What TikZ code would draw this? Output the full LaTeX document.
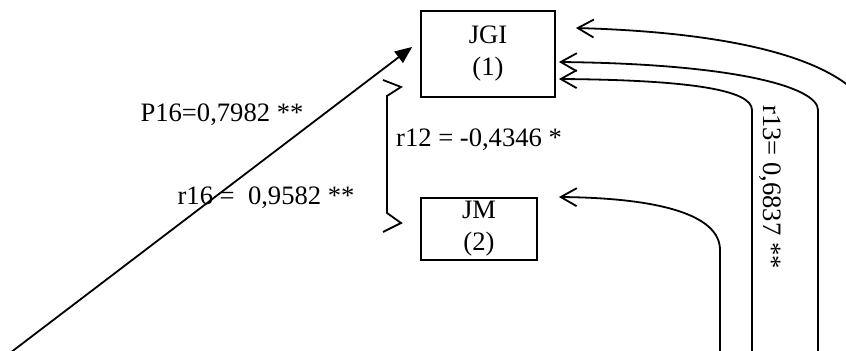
\documentclass[tikz,border=0pt]{standalone}
\usepackage{fontspec}
\setmainfont{Liberation Serif}
\usetikzlibrary{arrows.meta}

\tikzset{
  var/.style={draw, align=center, inner sep=0pt},
  rel/.style={-{Straight Barb[length=8pt,width=9pt]}},
}

\begin{document}
\begin{tikzpicture}[x=0.5pt, y=-0.5pt, line width=0.9pt, font=\fontsize{13.3}{16}\selectfont]
\useasboundingbox (0,0) rectangle (846,351);
\clip (0,0) rectangle (846,351);
\node [var, minimum width=67pt, minimum height=43pt] (jgi) at (488,54) {JGI\\(1)};
\node [var, minimum width=58pt, minimum height=31pt] (jm) at (479,229) {JM\\(2)};
\coordinate (x6) at (10,353);
\coordinate (x2) at (720,351);
\coordinate (x3a) at (752,351);
\coordinate (x3b) at (818,351);
\coordinate (x3c) at (870,351);
% path to JGI
\draw [-{Triangle[length=8.5pt,width=7pt]}] (x6) -- ([shift={(-8,-7)}]jgi.west);
% correlation JGI - JM
\draw (383,80) -- (401,87) -- (387,96) -- (387,213) -- (401,223) -- (383,232);
% arrows from below
\draw [rel] (x2) -- (720,250) .. controls (720,215) and (660,198) .. ([shift={(21,-32)}]jm.east);
\draw [rel] (x3a) -- (752,110) .. controls (752,90) and (690,80) .. ([shift={(3,25)}]jgi.east);
\draw [rel] (x3b) -- (818,110) .. controls (818,88) and (740,64) .. ([shift={(3,8)}]jgi.east);
\draw [rel] (x3c) -- (870,110) .. controls (840,55) and (720,32) .. ([shift={(20,-26)}]jgi.east);
% labels
\node at (222,115) {P16=0,7982 **};
\node at (266,198) {r16 =\ \ 0,9582 **};
\node at (479,140) {r12 = -0,4346 *};
\node [rotate=-90] at (770,187) {r13= 0,6837 **};
\end{tikzpicture}
\end{document}
